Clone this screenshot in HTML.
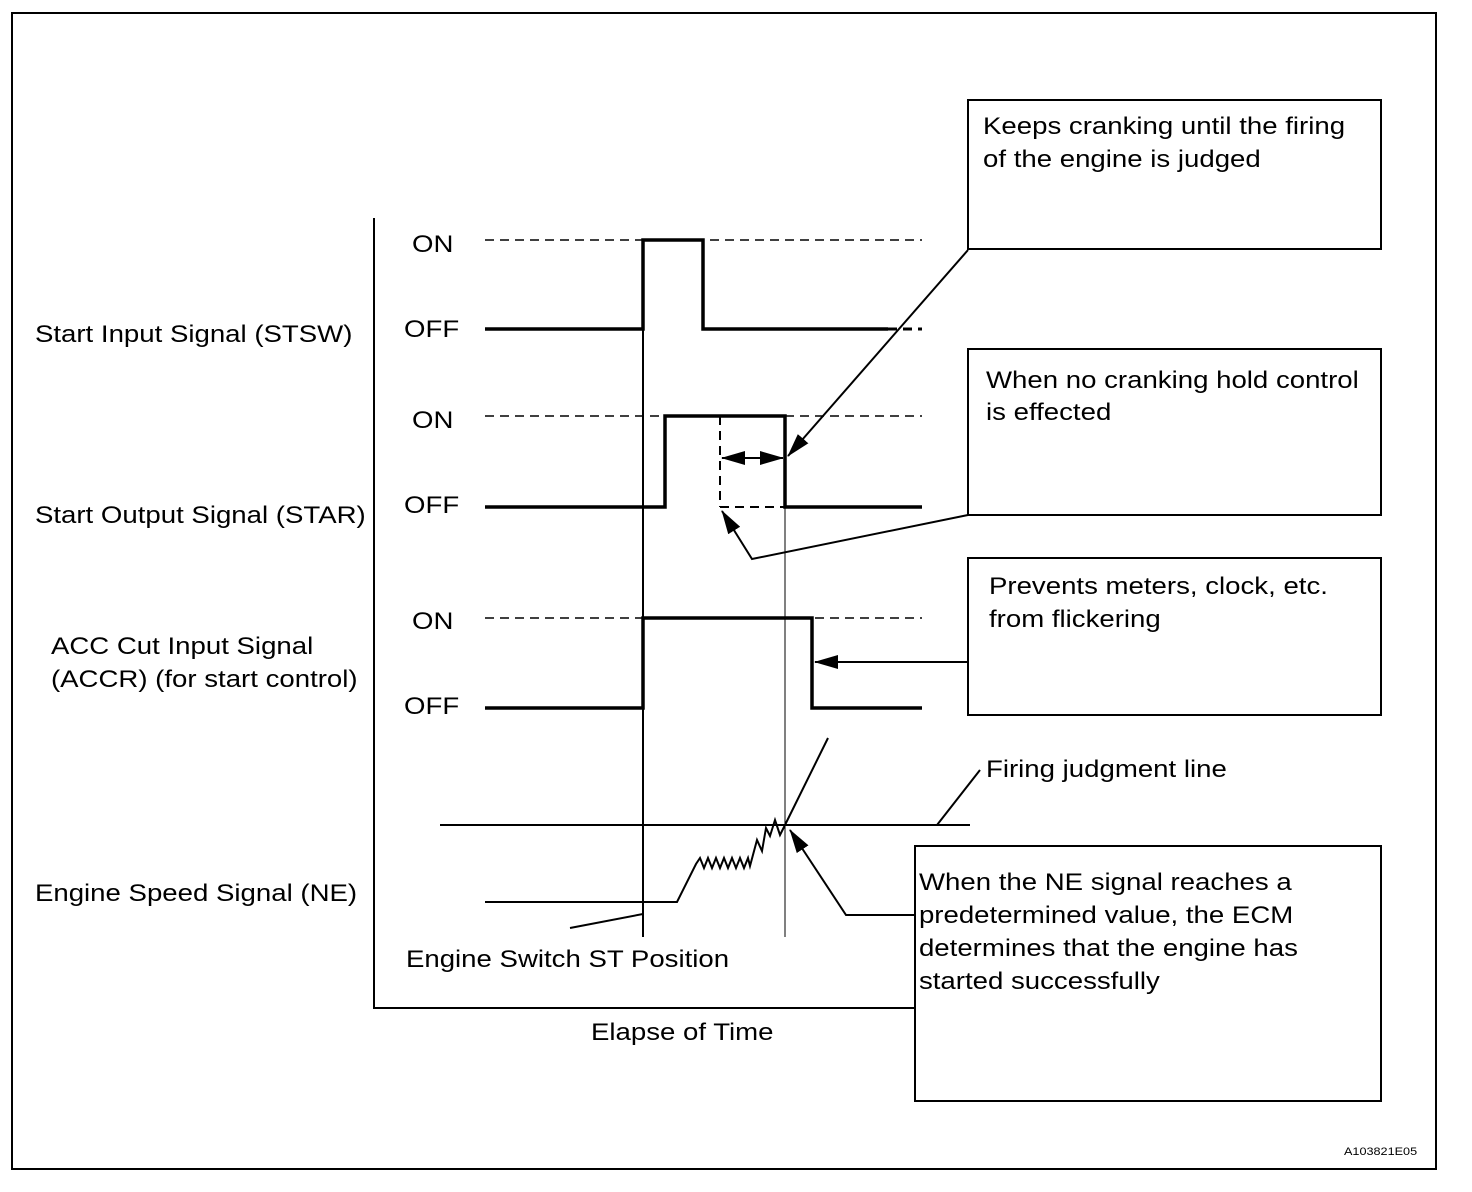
<!DOCTYPE html>
<html><head><style>
body{margin:0;background:#fff}
svg{display:block}
text{font-family:"Liberation Sans",Arial,sans-serif;font-size:24px;fill:#000}
</style></head><body>
<svg width="1472" height="1192" viewBox="0 0 1472 1192" xmlns="http://www.w3.org/2000/svg">
<defs>
<marker id="ahb" markerWidth="24" markerHeight="14" refX="23" refY="7" orient="auto-start-reverse" markerUnits="userSpaceOnUse" viewBox="0 0 24 14">
<path d="M0,0 L24,7 L0,14 z" fill="#000"/></marker>
</defs>
<rect x="12" y="13" width="1424" height="1156" fill="none" stroke="#000" stroke-width="2"/>
<path d="M374,218 V1008 H915" fill="none" stroke="#000" stroke-width="2"/>
<g stroke="#000" stroke-width="1.5" stroke-dasharray="9,6" fill="none">
<line x1="485" y1="240" x2="922" y2="240"/>
<line x1="485" y1="416" x2="922" y2="416"/>
<line x1="485" y1="618" x2="922" y2="618"/>
<line x1="888" y1="329" x2="922" y2="329" stroke-width="3"/>
<line x1="720" y1="416" x2="720" y2="507" stroke-width="2"/>
<line x1="720" y1="507" x2="786" y2="507" stroke-width="2"/>
</g>
<line x1="643" y1="240" x2="643" y2="937" stroke="#000" stroke-width="2"/>
<line x1="785" y1="416" x2="785" y2="937" stroke="#000" stroke-width="1"/>
<g stroke="#000" stroke-width="3.5" fill="none">
<path d="M485,329 H643 V240 H703 V329 H888"/>
<path d="M485,507 H665 V416 H785 V507 H922"/>
<path d="M485,708 H643 V618 H812 V708 H922"/>
</g>
<path d="M485,902 H677 L696,864 L700,858 L704,868 L708,858 L712,868 L716,858 L720,868 L724,858 L728,868 L732,858 L736,868 L740,858 L744,868 L748,858 L750,866 L757,840 L762,851 L766,828 L770,836 L775,820 L780,835 L785,825 L828,738" fill="none" stroke="#000" stroke-width="2"/>
<line x1="440" y1="825" x2="970" y2="825" stroke="#000" stroke-width="2"/>
<line x1="937" y1="825" x2="980" y2="770" stroke="#000" stroke-width="2"/>
<line x1="570" y1="928" x2="643" y2="914" stroke="#000" stroke-width="2"/>
<line x1="722" y1="458" x2="783" y2="458" stroke="#000" stroke-width="2" marker-start="url(#ahb)" marker-end="url(#ahb)"/>
<g stroke="#000" stroke-width="2" fill="none">
<line x1="968" y1="250" x2="788" y2="456" marker-end="url(#ahb)"/>
<polyline points="968,515 752,559 722,511" marker-end="url(#ahb)"/>
<line x1="968" y1="662" x2="815" y2="662" marker-end="url(#ahb)"/>
<polyline points="915,915 846,915 790,830" marker-end="url(#ahb)"/>
</g>
<g fill="#fff" stroke="#000" stroke-width="2">
<rect x="968" y="100" width="413" height="149"/>
<rect x="968" y="349" width="413" height="166"/>
<rect x="968" y="558" width="413" height="157"/>
<rect x="915" y="846" width="466" height="255"/>
</g>
<g transform="scale(1.15,1)">
<text x="854.8" y="134">Keeps cranking until the firing</text>
<text x="854.8" y="167">of the engine is judged</text>
<text x="857.4" y="388">When no cranking hold control</text>
<text x="857.4" y="420">is effected</text>
<text x="860" y="594">Prevents meters, clock, etc.</text>
<text x="860" y="627">from flickering</text>
<text x="799.1" y="890">When the NE signal reaches a</text>
<text x="799.1" y="923">predetermined value, the ECM</text>
<text x="799.1" y="956">determines that the engine has</text>
<text x="799.1" y="989">started successfully</text>
<text x="857.4" y="777">Firing judgment line</text>
<text x="358.3" y="252">ON</text>
<text x="351.3" y="337">OFF</text>
<text x="358.3" y="428">ON</text>
<text x="351.3" y="513">OFF</text>
<text x="358.3" y="629">ON</text>
<text x="351.3" y="714">OFF</text>
<text x="30.4" y="342">Start Input Signal (STSW)</text>
<text x="30.4" y="523">Start Output Signal (STAR)</text>
<text x="44.3" y="654">ACC Cut Input Signal</text>
<text x="44.3" y="687">(ACCR) (for start control)</text>
<text x="30.4" y="901">Engine Speed Signal (NE)</text>
<text x="353" y="967">Engine Switch ST Position</text>
<text x="513.9" y="1040">Elapse of Time</text>
<text x="1168.7" y="1155" style="font-size:11px">A103821E05</text>
</g>
</svg>
</body></html>
